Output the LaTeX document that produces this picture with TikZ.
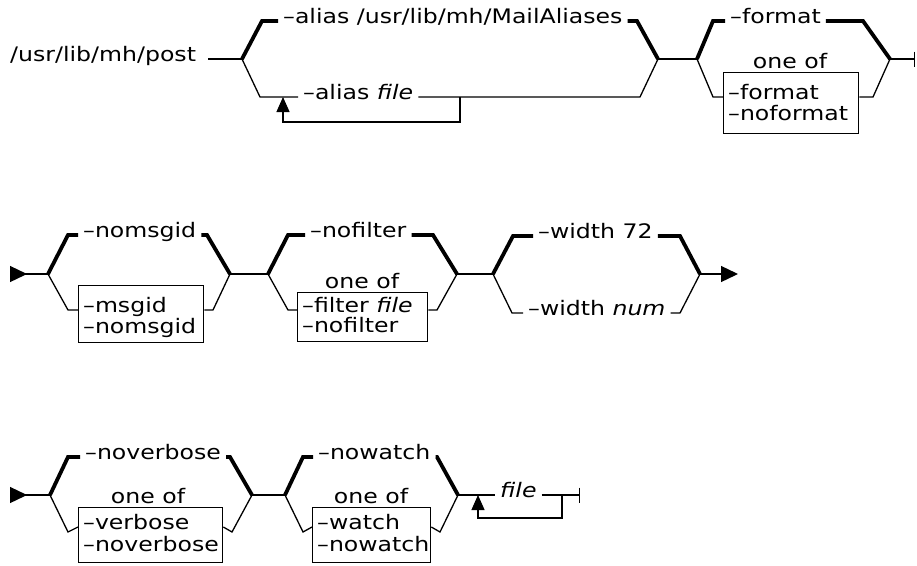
\documentclass[tikz,border=0pt]{standalone}
\usepackage{fontspec}
\setmainfont{DejaVu Sans}[FakeStretch=1.18]
\usetikzlibrary{arrows.meta}
\tikzset{every node/.style={font=\fontsize{20}{24}\selectfont}}
\tikzset{
  rail/.style={line width=1.3pt},
  dflt/.style={line width=3.8pt},
  lbl/.style={inner xsep=5pt, inner ysep=0pt, text height=14pt, text depth=4pt, anchor=mid west},
  optbox/.style={draw, line width=1.3pt, inner sep=0pt, anchor=north west},
  starttri/.tip={Triangle[reversed, length=17pt, width=16pt]},
  endtri/.tip={Triangle[length=17pt, width=16pt]},
}

\begin{document}
\begin{tikzpicture}[x=1pt, y=-1pt, >={Triangle[length=15pt, width=13pt]}]
  \useasboundingbox (0,0) rectangle (917,565);

  % Row 1: command, -alias.
  \node[lbl, inner xsep=0pt] (cmd) at (10,59) {/usr/lib/mh/post};
  \coordinate (s1) at (242,59);
  \coordinate (j1) at (658,59);
  \draw[rail] ([xshift=12pt]cmd.mid east) -- (s1);
  \node[lbl] (al1) at (278,21) {–alias /usr/lib/mh/MailAliases};
  \node[lbl] (al2) at (298,97) {–alias \textit{file}};
  \draw[dflt] (s1) -- ++(20,-38) -- (al1.mid west);
  \draw[dflt] (j1) -- ++(-21,-38) -- (al1.mid east);
  \draw[rail] (s1) -- ++(18,38) -- (al2.mid west);
  \draw[rail] (j1) -- ++(-18,38) -- (al2.mid east);
  \coordinate (lp1) at (460,97);
  \coordinate (lp2) at (283,97);
  \draw[rail, ->] (lp1) -- ++(0,25) -| (lp2);

  % Row 1: -format.
  \coordinate (s2) at (697,59);
  \coordinate (j2) at (890,59);
  \coordinate (end1) at (915,59);
  \draw[rail] (j1) -- (s2);
  \node[lbl] (fm1) at (725,21) {–format};
  \draw[dflt] (s2) -- ++(16,-38) -- (fm1.mid west);
  \draw[dflt] (j2) -- ++(-27,-38) -- (fm1.mid east);
  \node[anchor=base] (of1) at (790,68) {one of};
  \node[optbox, minimum width=135pt, minimum height=61pt] (bx1) at (723,72) {};
  \node[lbl] (fm2) at (723,97) {–format};
  \node[lbl] (fm3) at (723,118) {–noformat};
  \draw[rail] (s2) -- ++(16,38) -- (bx1.west |- fm2.mid);
  \draw[rail] (j2) -- ++(-17,38) -- (bx1.east |- fm2.mid);
  \draw[rail, -{Bar[width=15pt]}] (j2) -- (end1);

  % Row 2: -nomsgid.
  \coordinate (st2) at (10,274);
  \coordinate (s3) at (48,274);
  \coordinate (j3) at (230,274);
  \draw[rail, {starttri}-] (st2) -- (s3);
  \node[lbl] (ng1) at (78,235) {–nomsgid};
  \draw[dflt] (s3) -- ++(20,-39) -- (ng1.mid west);
  \draw[dflt] (j3) -- ++(-23,-39) -- (ng1.mid east);
  \node[optbox, minimum width=125pt, minimum height=57pt] (bx2) at (78,285) {};
  \node[lbl] (mg1) at (78,310) {–msgid};
  \node[lbl] (mg2) at (78,331) {–nomsgid};
  \draw[rail] (s3) -- ++(20,36) -- (bx2.west |- mg1.mid);
  \draw[rail] (j3) -- ++(-17,36) -- (bx2.east |- mg1.mid);

  % Row 2: -nofilter.
  \coordinate (s4) at (268,274);
  \coordinate (j4) at (457,274);
  \draw[rail] (j3) -- (s4);
  \node[lbl] (nf1) at (305,235) {–nofilter};
  \draw[dflt] (s4) -- ++(20,-39) -- (nf1.mid west);
  \draw[dflt] (j4) -- ++(-24,-39) -- (nf1.mid east);
  \node[anchor=base] (of2) at (362,288) {one of};
  \node[optbox, minimum width=130pt, minimum height=49pt] (bx3) at (297,292) {};
  \node[lbl] (fl1) at (297,310) {–filter \textit{file}};
  \node[lbl] (fl2) at (297,330) {–nofilter};
  \draw[rail] (s4) -- ++(20,36) -- (bx3.west |- fl1.mid);
  \draw[rail] (j4) -- ++(-20,36) -- (bx3.east |- fl1.mid);

  % Row 2: -width.
  \coordinate (s5) at (493,274);
  \coordinate (j5) at (700,274);
  \coordinate (end2) at (738,274);
  \draw[rail] (j4) -- (s5);
  \node[lbl] (wd1) at (533,236) {–width 72};
  \draw[dflt] (s5) -- ++(20,-38) -- (wd1.mid west);
  \draw[dflt] (j5) -- ++(-20,-38) -- (wd1.mid east);
  \node[lbl] (wd2) at (523,313) {–width \textit{num}};
  \draw[rail] (s5) -- ++(19,39) -- (wd2.mid west);
  \draw[rail] (j5) -- ++(-20,39) -- (wd2.mid east);
  \draw[rail, -{endtri}] (j5) -- (end2);

  % Row 3: -noverbose.
  \coordinate (st3) at (10,495);
  \coordinate (s6) at (50,495);
  \coordinate (j6) at (252,495);
  \draw[rail, {starttri}-] (st3) -- (s6);
  \node[lbl] (nv1) at (80,457) {–noverbose};
  \draw[dflt] (s6) -- ++(18,-38) -- (nv1.mid west);
  \draw[dflt] (j6) -- ++(-22,-38) -- (nv1.mid east);
  \node[anchor=base] (of3) at (148,503) {one of};
  \node[optbox, minimum width=144pt, minimum height=55pt] (bx4) at (78,507) {};
  \node[lbl] (vb1) at (78,527) {–verbose};
  \node[lbl] (vb2) at (78,549) {–noverbose};
  \draw[rail] (s6) -- ++(18,37) -- (bx4.west |- vb1.mid);
  \draw[rail] (j6) -- ++(-20,37) -- (bx4.east |- vb1.mid);

  % Row 3: -nowatch.
  \coordinate (s7) at (285,495);
  \coordinate (j7) at (458,495);
  \draw[rail] (j6) -- (s7);
  \node[lbl] (nw1) at (313,457) {–nowatch};
  \draw[dflt] (s7) -- ++(18,-38) -- (nw1.mid west);
  \draw[dflt] (j7) -- ++(-21,-38) -- (nw1.mid east);
  \node[anchor=base] (of4) at (371,503) {one of};
  \node[optbox, minimum width=118pt, minimum height=55pt] (bx5) at (312,507) {};
  \node[lbl] (wt1) at (312,527) {–watch};
  \node[lbl] (wt2) at (312,549) {–nowatch};
  \draw[rail] (s7) -- ++(18,37) -- (bx5.west |- wt1.mid);
  \draw[rail] (j7) -- ++(-18,37) -- (bx5.east |- wt1.mid);

  % Row 3: file.
  \node[lbl] (fi1) at (495,495) {\textit{file}};
  \coordinate (end3) at (580,495);
  \draw[rail] (j7) -- (fi1.mid west);
  \draw[rail, -{Bar[width=15pt]}] (fi1.mid east) -- (end3);
  \coordinate (lp3) at (562,495);
  \coordinate (lp4) at (478,495);
  \draw[rail, ->] (lp3) -- ++(0,23) -| (lp4);

\end{tikzpicture}
\end{document}
